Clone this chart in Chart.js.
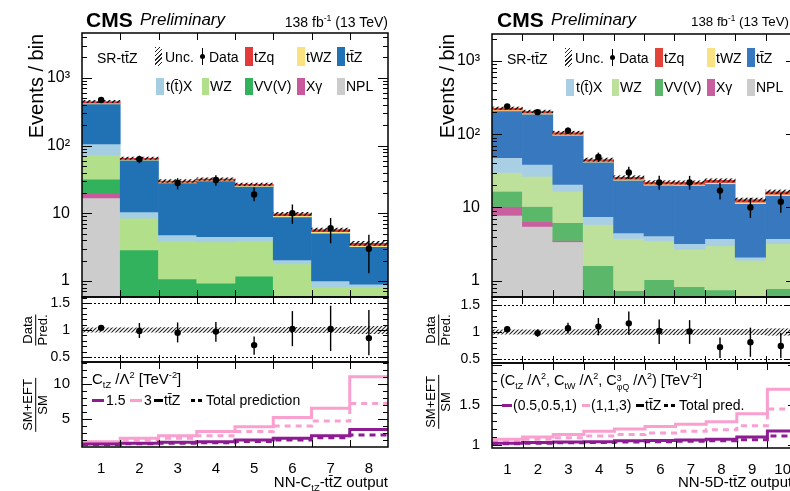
<!DOCTYPE html>
<html><head><meta charset="utf-8">
<script src="https://cdn.jsdelivr.net/npm/chart.js@4.4.1/dist/chart.umd.min.js"></script>
<style>
html,body{margin:0;padding:0;background:#fff;}
#root{position:relative;width:790px;height:491px;overflow:hidden;font-family:"Liberation Sans",Arial,Helvetica,sans-serif;color:#000;background:#fff;}
#root canvas{position:absolute;top:0;}
.t{position:absolute;white-space:nowrap;line-height:1;}
.sw{position:absolute;}
.rot{position:absolute;white-space:nowrap;line-height:1;transform:translate(-50%,-50%) rotate(-90deg);}
.frac{position:absolute;transform:translate(-50%,-50%) rotate(-90deg);text-align:center;font-size:13px;line-height:1.1;white-space:nowrap;}
.frac .n{border-bottom:1.3px solid #000;padding:0 1px;}
sub,sup{font-size:0.62em;line-height:0;}
.ss{display:inline-flex;flex-direction:column;font-size:0.6em;line-height:1;vertical-align:0.45em;}
.hatchsw{background:repeating-linear-gradient(135deg,#222 0 1px,transparent 1px 3px);}
</style></head>
<body><div id="root">
<canvas id="Lmain" width="400" height="491" style="left:0px;width:400px;height:491px"></canvas>
<canvas id="Lratio" width="400" height="491" style="left:0px;width:400px;height:491px"></canvas>
<canvas id="Left" width="400" height="491" style="left:0px;width:400px;height:491px"></canvas>
<canvas id="Rmain" width="400" height="491" style="left:400px;width:400px;height:491px"></canvas>
<canvas id="Rratio" width="400" height="491" style="left:400px;width:400px;height:491px"></canvas>
<canvas id="Reft" width="400" height="491" style="left:400px;width:400px;height:491px"></canvas>
</div>
<script>
// ================= DATA =================
// ---- Left plot: NN-CtZ-ttZ output, 8 bins ----
const binsL = [1, 2, 3, 4, 5, 6, 7, 8];
const L_NPL = [16.8, 0.30, 0.20, 0.20, 0.20, 0.10, 0.05, 0.05];
const L_Xg  = [3.2, 0.10, 0.05, 0.05, 0.05, 0.05, 0.02, 0.02];
const L_VVV = [12.0, 2.47, 0.82, 0.68, 0.93, 0.30, 0.20, 0.15];
const L_WZ  = [40.6, 5.63, 2.83, 2.84, 2.72, 1.33, 0.55, 0.60];
const L_ttX = [33.4, 2.00, 0.90, 0.73, 0.60, 0.26, 0.18, 0.08];
const L_ttZ = [305, 50.5, 23.2, 25.5, 20.5, 6.76, 4.10, 2.30];
const L_tWZ = [12, 1.5, 0.8, 0.8, 0.7, 0.4, 0.25, 0.15];
const L_tZq = [25, 2.5, 1.2, 1.2, 1.1, 0.6, 0.40, 0.25];
const L_unc = [0.04, 0.04, 0.045, 0.045, 0.045, 0.05, 0.05, 0.07];
const L_data   = [470, 63, 28, 31, 19, 10, 6, 3];
const L_dataLo = [448, 55, 22.5, 25.5, 15, 7, 3.6, 1.3];
const L_dataHi = [492, 71, 33, 36.5, 24, 13.5, 8.5, 4.8];
const L_ratio   = [1.04, 0.98, 0.95, 0.97, 0.72, 1.02, 1.02, 0.85];
const L_ratioLo = [0.99, 0.85, 0.77, 0.78, 0.54, 0.70, 0.61, 0.53];
const L_ratioHi = [1.09, 1.13, 1.14, 1.15, 0.88, 1.35, 1.45, 1.37];
const L_c15_ttZ = [1.43, 1.53, 1.67, 1.76, 2.0, 2.24, 2.6, 3.5];
const L_c15_tot = [1.35, 1.45, 1.55, 1.6, 1.8, 2.0, 2.3, 2.7];
const L_c3_ttZ  = [1.76, 2.24, 2.6, 3.2, 3.9, 5.2, 6.5, 11.0];
const L_c3_tot  = [1.53, 2.0, 2.24, 2.6, 3.2, 4.0, 4.7, 7.2];

// ---- Right plot: NN-5D-ttZ output, 10 bins ----
const binsR = [1, 2, 3, 4, 5, 6, 7, 8, 9, 10];
const R_NPL = [7.8, 5.5, 3.4, 0.3, 0.2, 0.2, 0.15, 0.15, 0.1, 0.1];
const R_Xg  = [2.5, 0.9, 0.15, 0.1, 0.05, 0.05, 0.05, 0.05, 0.05, 0.05];
const R_VVV = [6.3, 3.9, 2.65, 1.2, 0.48, 0.78, 0.63, 0.55, 0.35, 0.63];
const R_WZ  = [13.4, 16.3, 10.4, 4.25, 3.03, 2.47, 1.83, 2.25, 1.4, 2.42];
const R_ttX = [18, 12.2, 4.0, 1.65, 0.74, 0.6, 0.54, 0.76, 0.2, 0.56];
const R_ttZ = [160, 149, 76, 34, 19, 16, 16.8, 17.3, 9.2, 10.8];
const R_tWZ = [6, 6, 3, 1.2, 0.8, 0.7, 0.7, 0.8, 0.5, 0.6];
const R_tZq = [12, 11, 5.5, 2.3, 1.5, 1.3, 1.3, 1.6, 1.0, 1.2];
const R_unc = [0.04, 0.04, 0.045, 0.05, 0.05, 0.05, 0.05, 0.05, 0.05, 0.06];
const R_data   = [240, 200, 112, 49, 30, 22, 22, 17, 10, 12];
const R_dataLo = [225, 186, 101, 42, 24.5, 17.5, 17.5, 12.8, 7.2, 8.5];
const R_dataHi = [255, 214, 123, 56, 36, 27, 27, 21.5, 13.5, 15.5];
const R_ratio   = [1.05, 0.98, 1.07, 1.10, 1.16, 1.02, 1.01, 0.72, 0.81, 0.74];
const R_ratioLo = [0.99, 0.91, 0.97, 0.94, 0.95, 0.78, 0.78, 0.52, 0.54, 0.52];
const R_ratioHi = [1.11, 1.05, 1.17, 1.26, 1.38, 1.23, 1.22, 0.90, 1.08, 0.98];
const R_a_ttZ = [1.02, 1.03, 1.035, 1.04, 1.05, 1.055, 1.06, 1.07, 1.10, 1.175];
const R_a_tot = [1.015, 1.02, 1.025, 1.03, 1.035, 1.04, 1.045, 1.05, 1.065, 1.11];
const R_b_ttZ = [1.07, 1.10, 1.13, 1.17, 1.20, 1.23, 1.26, 1.29, 1.39, 1.70];
const R_b_tot = [1.05, 1.07, 1.09, 1.11, 1.13, 1.15, 1.17, 1.19, 1.24, 1.45];

// ================= STYLE =================
const COL_L = {tZq:'#e3393a', tWZ:'#fae27e', ttZ:'#2171b5', ttX:'#a6cee3', WZ:'#b2df8a', VVV:'#33b25e', Xg:'#c9599c', NPL:'#cccccc'};
const COL_R = {tZq:'#e3443a', tWZ:'#f9e284', ttZ:'#3878bf', ttX:'#a9cfe5', WZ:'#bde09b', VVV:'#5bb86b', Xg:'#c8609f', NPL:'#cccccc'};
const PURPLE = '#8d1b92', PINK = '#f9a0cf';
const FONT = '"Liberation Sans", Arial, Helvetica, sans-serif';
Chart.defaults.font.family = FONT;
Chart.defaults.color = '#000';

function hatch(color, step, lw) {
  const c = document.createElement('canvas'); c.width = step; c.height = step;
  const g = c.getContext('2d');
  g.strokeStyle = color; g.lineWidth = lw;
  g.beginPath();
  g.moveTo(-1, step + 1); g.lineTo(step + 1, -1);
  g.moveTo(-1, 1); g.lineTo(1, -1);
  g.moveTo(step - 1, step + 1); g.lineTo(step + 1, step - 1);
  g.stroke();
  return g.createPattern(c, 'repeat');
}
const HATCH_MAIN = hatch('#111', 5, 1.3);
const HATCH_RATIO = hatch('#222', 4, 1.1);

// frame + inward ticks + dotted reference lines
const framePlugin = {
  id: 'frame',
  afterDatasetsDraw(chart, args, o) {
    if (!o || !o.on) return;
    const {ctx, chartArea: a} = chart; const x = chart.scales.x, y = chart.scales.y;
    ctx.save();
    ctx.strokeStyle = '#000'; ctx.lineWidth = 1;
    if (o.dotted) {
      ctx.setLineDash([2, 2]);
      o.dotted.forEach(v => { const p = Math.round(y.getPixelForValue(v)) + 0.5; ctx.beginPath(); ctx.moveTo(a.left, p); ctx.lineTo(a.right, p); ctx.stroke(); });
      ctx.setLineDash([]);
    }
    const hy = (v, len) => { const p = Math.round(y.getPixelForValue(v)) + 0.5; if (p < a.top || p > a.bottom) return;
      ctx.beginPath(); ctx.moveTo(a.left, p); ctx.lineTo(a.left + len, p); ctx.moveTo(a.right, p); ctx.lineTo(a.right - len, p); ctx.stroke(); };
    (o.yMajor || []).forEach(v => hy(v, 10));
    (o.yMinor || []).forEach(v => hy(v, 5));
    (o.xTicks || []).forEach(v => { const p = Math.round(x.getPixelForValue(v)) + 0.5; ctx.beginPath();
      ctx.moveTo(p, a.bottom); ctx.lineTo(p, a.bottom - 7); ctx.moveTo(p, a.top); ctx.lineTo(p, a.top + 7); ctx.stroke(); });
    ctx.lineWidth = 1.5;
    ctx.strokeRect(a.left, a.top, a.right - a.left, a.bottom - a.top);
    ctx.restore();
  }
};
Chart.register(framePlugin);

function logMinor(lo, hi) { const r = []; for (let d = -1; d <= 4; d++) for (let m = 2; m <= 9; m++) { const v = m * Math.pow(10, d); if (v > lo && v < hi) r.push(v); } return r; }
function linSteps(lo, hi, st) { const r = []; for (let v = lo; v <= hi + 1e-9; v += st) r.push(+v.toFixed(4)); return r; }
const edges = bins => bins.slice(1).map(b => b - 0.5);

const barCommon = {type: 'bar', stack: 's', barPercentage: 1, categoryPercentage: 1, borderWidth: 0, clip: 0};

function pts(bins, vals) { return {type: 'line', data: bins.map((b, i) => ({x: b, y: vals[i]})), showLine: false,
  pointRadius: 3.2, pointBackgroundColor: '#000', pointBorderWidth: 0, order: 0}; }
function errs(bins, lo, hi) { return Object.assign({}, barCommon, {data: bins.map((b, i) => ({x: b, y: [lo[i], hi[i]]})),
  backgroundColor: '#000', barThickness: 1.4, inflateAmount: 0, order: 1}); }

function mainSets(bins, comps, unc, data, lo, hi) {
  const ds = [pts(bins, data), errs(bins, lo, hi)];
  const total = bins.map((b, i) => comps.reduce((s, c) => s + c.data[i], 0));
  ds.push(Object.assign({}, barCommon, {data: bins.map((b, i) => ({x: b, y: [total[i] * (1 - unc[i]), total[i] * (1 + unc[i])]})),
    backgroundColor: HATCH_MAIN, order: 2}));
  let base = bins.map(() => 1e-3);
  comps.forEach((c, k) => {
    const d = bins.map((b, i) => ({x: b, y: [base[i], base[i] + c.data[i]]}));
    base = base.map((v, i) => v + c.data[i]);
    ds.push(Object.assign({}, barCommon, {data: d, backgroundColor: c.color, order: 3 + comps.length - k}));
  });
  return ds;
}
function ratioSets(bins, r, lo, hi, unc) {
  return [pts(bins, r), errs(bins, lo, hi),
    Object.assign({}, barCommon, {data: bins.map((b, i) => ({x: b, y: [1 - unc[i], 1 + unc[i]]})), backgroundColor: HATCH_RATIO, order: 2})];
}
function step(bins, vals, color, dashed, order) {
  const d = bins.map((b, i) => ({x: b - 0.5, y: vals[i]}));
  d.push({x: bins[bins.length - 1] + 0.5, y: vals[vals.length - 1]});
  return {type: 'line', data: d, stepped: true, borderColor: color, borderWidth: 3, borderDash: dashed ? [6, 5] : [],
    pointRadius: 0, fill: false, order: order};
}

function makePanel(id, cfg) {
  const bins = cfg.bins;
  return new Chart(document.getElementById(id), {
    type: 'bar',
    data: {datasets: cfg.datasets},
    options: {
      responsive: false, animation: false, events: [],
      layout: {padding: {left: 0, right: cfg.padR, top: cfg.top, bottom: cfg.bottom}},
      plugins: {legend: {display: false}, tooltip: {enabled: false}, frame: Object.assign({on: true}, cfg.frame)},
      scales: {
        x: {type: 'linear', min: 0.5, max: bins.length + 0.5, stacked: true, offset: false, display: !!cfg.showX,
          grid: {display: false}, border: {display: false},
          afterBuildTicks: s => { s.ticks = bins.map(v => ({value: v})); },
          afterFit: s => { if (cfg.showX) s.height = 30; },
          ticks: {autoSkip: false, maxRotation: 0, padding: 5, font: {size: 15}, color: '#000', callback: v => String(v)}},
        y: {type: cfg.yType || 'linear', min: cfg.yMin, max: cfg.yMax, stacked: false,
          grid: {display: false}, border: {display: false},
          afterBuildTicks: s => { s.ticks = cfg.yTicks.map(v => ({value: v})); },
          afterFit: s => { s.width = cfg.yW; },
          ticks: {autoSkip: false, padding: 4, font: {size: cfg.yFont || 14}, color: '#000', callback: cfg.yLabel || (v => String(v))}}
      }
    }
  });
}
const logLabel = v => ({1: '1', 10: '10', 100: '10²', 1000: '10³'})[v] || '';
const comps = (C, npl, xg, vvv, wz, ttx, ttz, twz, tzq) => [
  {data: npl, color: C.NPL}, {data: xg, color: C.Xg}, {data: vvv, color: C.VVV}, {data: wz, color: C.WZ},
  {data: ttx, color: C.ttX}, {data: ttz, color: C.ttZ}, {data: twz, color: C.tWZ}, {data: tzq, color: C.tZq}];

// ---------- LEFT ----------
makePanel('Lmain', {bins: binsL, top: 33, bottom: 194, padR: 12, yW: 82, yType: 'logarithmic', yMin: 0.58, yMax: 4600,
  yTicks: [1, 10, 100, 1000], yLabel: logLabel, yFont: 16,
  frame: {yMajor: [1, 10, 100, 1000], yMinor: logMinor(0.58, 4600), xTicks: edges(binsL)},
  datasets: mainSets(binsL, comps(COL_L, L_NPL, L_Xg, L_VVV, L_WZ, L_ttX, L_ttZ, L_tWZ, L_tZq), L_unc, L_data, L_dataLo, L_dataHi)});
makePanel('Lratio', {bins: binsL, top: 297, bottom: 129, padR: 12, yW: 82, yMin: 0.407, yMax: 1.611,
  yTicks: [0.5, 1, 1.5], yFont: 14,
  frame: {yMajor: [0.5, 1, 1.5], yMinor: linSteps(0.5, 1.6, 0.1), xTicks: edges(binsL), dotted: [0.5, 1.5]},
  datasets: ratioSets(binsL, L_ratio, L_ratioLo, L_ratioHi, L_unc)});
makePanel('Left', {bins: binsL, top: 362, bottom: 14, padR: 12, yW: 82, yMin: 1, yMax: 13.1, showX: true,
  yTicks: [5, 10], yFont: 15,
  frame: {yMajor: [5, 10], yMinor: linSteps(1, 13, 1), xTicks: edges(binsL)},
  datasets: [step(binsL, L_c15_ttZ, PURPLE, false, 2), step(binsL, L_c15_tot, PURPLE, true, 1),
             step(binsL, L_c3_ttZ, PINK, false, 4), step(binsL, L_c3_tot, PINK, true, 3)]});

// ---------- RIGHT ----------
makePanel('Rmain', {bins: binsR, top: 34, bottom: 194, padR: 2, yW: 92, yType: 'logarithmic', yMin: 0.62, yMax: 2330,
  yTicks: [1, 10, 100, 1000], yLabel: logLabel, yFont: 16,
  frame: {yMajor: [1, 10, 100, 1000], yMinor: logMinor(0.62, 2330), xTicks: edges(binsR)},
  datasets: mainSets(binsR, comps(COL_R, R_NPL, R_Xg, R_VVV, R_WZ, R_ttX, R_ttZ, R_tWZ, R_tZq), R_unc, R_data, R_dataLo, R_dataHi)});
makePanel('Rratio', {bins: binsR, top: 297, bottom: 128, padR: 2, yW: 92, yMin: 0.426, yMax: 1.648,
  yTicks: [0.5, 1, 1.5], yFont: 14,
  frame: {yMajor: [0.5, 1, 1.5], yMinor: linSteps(0.5, 1.6, 0.1), xTicks: edges(binsR), dotted: [0.5, 1.5]},
  datasets: ratioSets(binsR, R_ratio, R_ratioLo, R_ratioHi, R_unc)});
makePanel('Reft', {bins: binsR, top: 363, bottom: 13, padR: 2, yW: 92, yMin: 0.96, yMax: 2.03, showX: true,
  yTicks: [1, 1.5], yFont: 15,
  frame: {yMajor: [1, 1.5, 2], yMinor: linSteps(1, 2, 0.1), xTicks: edges(binsR)},
  datasets: [step(binsR, R_a_ttZ, PURPLE, false, 2), step(binsR, R_a_tot, PURPLE, true, 1),
             step(binsR, R_b_ttZ, PINK, false, 4), step(binsR, R_b_tot, PINK, true, 3)]});

// ================= TEXT / LEGENDS =================
const root = document.getElementById('root');
function T(html, x, y, size, extra) {
  const d = document.createElement('div'); d.className = 't'; d.innerHTML = html;
  d.style.top = y + 'px'; d.style.fontSize = size + 'px';
  if (extra && extra.right) d.style.right = (790 - x) + 'px'; else d.style.left = x + 'px';
  if (extra && extra.css) d.style.cssText += extra.css;
  root.appendChild(d); return d;
}
function B(x, y, w, h, bg, cls) {
  const d = document.createElement('div'); d.className = 'sw' + (cls ? ' ' + cls : '');
  d.style.cssText += `left:${x}px;top:${y}px;width:${w}px;height:${h}px;` + (bg ? `background:${bg};` : '');
  root.appendChild(d); return d;
}
function ROT(html, cx, cy, size) { const d = document.createElement('div'); d.className = 'rot'; d.innerHTML = html;
  d.style.left = cx + 'px'; d.style.top = cy + 'px'; d.style.fontSize = size + 'px'; root.appendChild(d); }
function FRAC(a, b, cx, cy) { const d = document.createElement('div'); d.className = 'frac';
  d.innerHTML = `<div class="n">${a}</div><div>${b}</div>`; d.style.left = cx + 'px'; d.style.top = cy + 'px'; root.appendChild(d); }

const TTZ = 'tt\u0304Z';
function header(x0, right, rightAlign, lumiSize) {
  T('<b>CMS</b>', x0, 9, 21);
  T('<i>Preliminary</i>', x0 + 54, 11, 17);
  if (rightAlign) T('138 fb<sup>-1</sup> (13 TeV)', right, 15, lumiSize, {right: true});
  else T('138 fb<sup>-1</sup> (13 TeV)', right, 15, lumiSize);
}
function legend(ax, C, dy) {
  // ax = chart-area left
  const r1 = 47 + dy, r2 = 78 + dy, t1 = 50 + dy, t2 = 79 + dy;
  T('SR-' + TTZ, ax + 15, 51 + dy, 14);
  B(ax + 73, r1, 7, 19, null, 'hatchsw'); T('Unc.', ax + 83, t1, 14);
  B(ax + 120, r1 + 1, 1.4, 17, '#000'); B(ax + 118, r1 + 7, 5, 5, '#000').style.borderRadius = '50%';
  T('Data', ax + 127, t1, 14);
  B(ax + 163, r1, 8, 19, C.tZq); T('tZq', ax + 172, t1, 14);
  B(ax + 215, r1, 8, 19, C.tWZ); T('tWZ', ax + 224, t1, 14);
  B(ax + 255, r1, 8, 19, C.ttZ); T(TTZ, ax + 264, t1, 14);
  B(ax + 74, r2, 8, 17, C.ttX); T('t(t\u0304)X', ax + 84, t2, 14);
  B(ax + 120, r2, 7, 17, C.WZ); T('WZ', ax + 128, t2, 14);
  B(ax + 163, r2, 8, 17, C.VVV); T('VV(V)', ax + 172, t2, 14);
  B(ax + 215, r2, 8, 17, C.Xg); T('X\u03b3', ax + 224, t2, 14);
  B(ax + 255, r2, 8, 17, C.NPL); T('NPL', ax + 264, t2, 14);
}
function dashSw(x, y) { B(x, y, 4, 3, '#000'); B(x + 7, y, 4, 3, '#000'); }

// left
header(86, 388, true, 14);
ROT('Events / bin', 36, 86, 20);
FRAC('Data', 'Pred.', 36, 330);
FRAC('SM+EFT', 'SM', 36, 405);
legend(82, COL_L, 0);
T('C<sub>tZ</sub> /\u039b<sup>2</sup> [TeV<sup>-2</sup>]', 92, 371, 15);
B(92, 399, 12, 3, PURPLE); T('1.5', 106, 393, 14);
B(130, 399, 12, 3, PINK); T('3', 144, 393, 14);
B(154, 399, 9, 3, '#000'); T(TTZ, 164, 393, 14);
dashSw(191, 399); T('Total prediction', 206, 393, 14);
T('NN-C<sub>tZ</sub>-' + TTZ + ' output', 388, 474, 15, {right: true});

// right
header(497, 691, false, 13.3);
ROT('Events / bin', 447, 86, 20);
FRAC('Data', 'Pred.', 439, 330);
FRAC('SM+EFT', 'SM', 439, 402);
legend(492, COL_R, 1);
T('(C<sub>tZ</sub> /\u039b<sup>2</sup>, C<sub>tW</sub> /\u039b<sup>2</sup>, C<span class="ss"><span>3</span><span>\u03c6Q</span></span> /\u039b<sup>2</sup>) [TeV<sup>-2</sup>]', 500, 373, 14.5);
B(502, 404, 10, 3, PURPLE); T('(0.5,0.5,1)', 513, 398, 14);
B(582, 404, 8, 3, PINK); T('(1,1,3)', 591, 398, 14);
B(636, 404, 8, 3, '#000'); T(TTZ, 645, 398, 14);
dashSw(664, 404); T('Total pred.', 679, 398, 14);
T('NN-5D-' + TTZ + ' output', 678, 474, 15);
</script>
</body></html>
